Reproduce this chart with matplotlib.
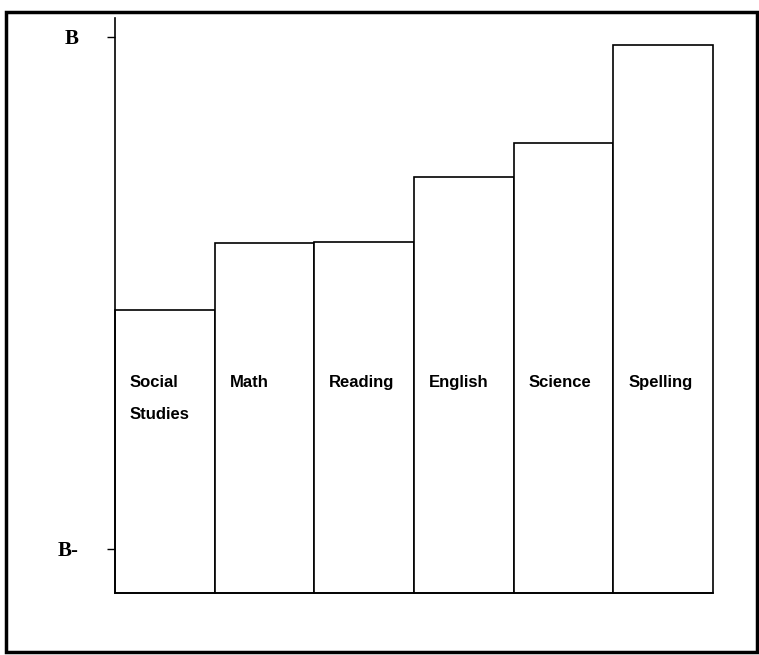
import matplotlib.pyplot as plt
from matplotlib.patches import Rectangle

# grades on a 4-point scale: B- = 2.7, B = 3.0
subjects = ["Social\nStudies", "Math", "Reading", "English", "Science", "Spelling"]
grades = [2.840, 2.879, 2.880, 2.918, 2.938, 2.995]
tick_vals = [2.7, 3.0]
tick_labels = ["B-", "B"]

ymin, ymax = 2.674, 3.011

fig = plt.figure(figsize=(7.59, 6.55), dpi=100)
ax = fig.add_axes([0.1515, 0.0947, 0.7879, 0.8778])

x = list(range(len(subjects)))
bars = ax.bar(x, [g - ymin for g in grades], bottom=ymin, width=1.0, align="edge",
              color="white", edgecolor="black", linewidth=1.2)
for b in bars:
    b.set_clip_on(False)

for xi, name in zip(x, subjects):
    ax.text(xi + 0.15, 2.7 + 0.3 * (548 - 375) / 511, name, ha="left", va="top",
            fontsize=12, fontweight="bold", family="Liberation Sans",
            linespacing=2.4)

ax.set_xlim(0, len(subjects))
ax.set_ylim(ymin, ymax)
ax.set_xticks([])
ax.set_yticks(tick_vals)
ax.set_yticklabels(tick_labels, fontsize=15, fontweight="bold", family="Liberation Serif")
ax.tick_params(axis="y", direction="out", length=6, width=1, pad=20)
for s in ["top", "right"]:
    ax.spines[s].set_visible(False)
ax.spines["left"].set_linewidth(1.2)
ax.spines["bottom"].set_linewidth(1.2)

# outer frame around the whole chart
fig.patches.append(Rectangle((0.008, 0.005), 0.989, 0.977, transform=fig.transFigure,
                             fill=False, edgecolor="black", linewidth=2.5))

fig.savefig("out.png", dpi=100)
